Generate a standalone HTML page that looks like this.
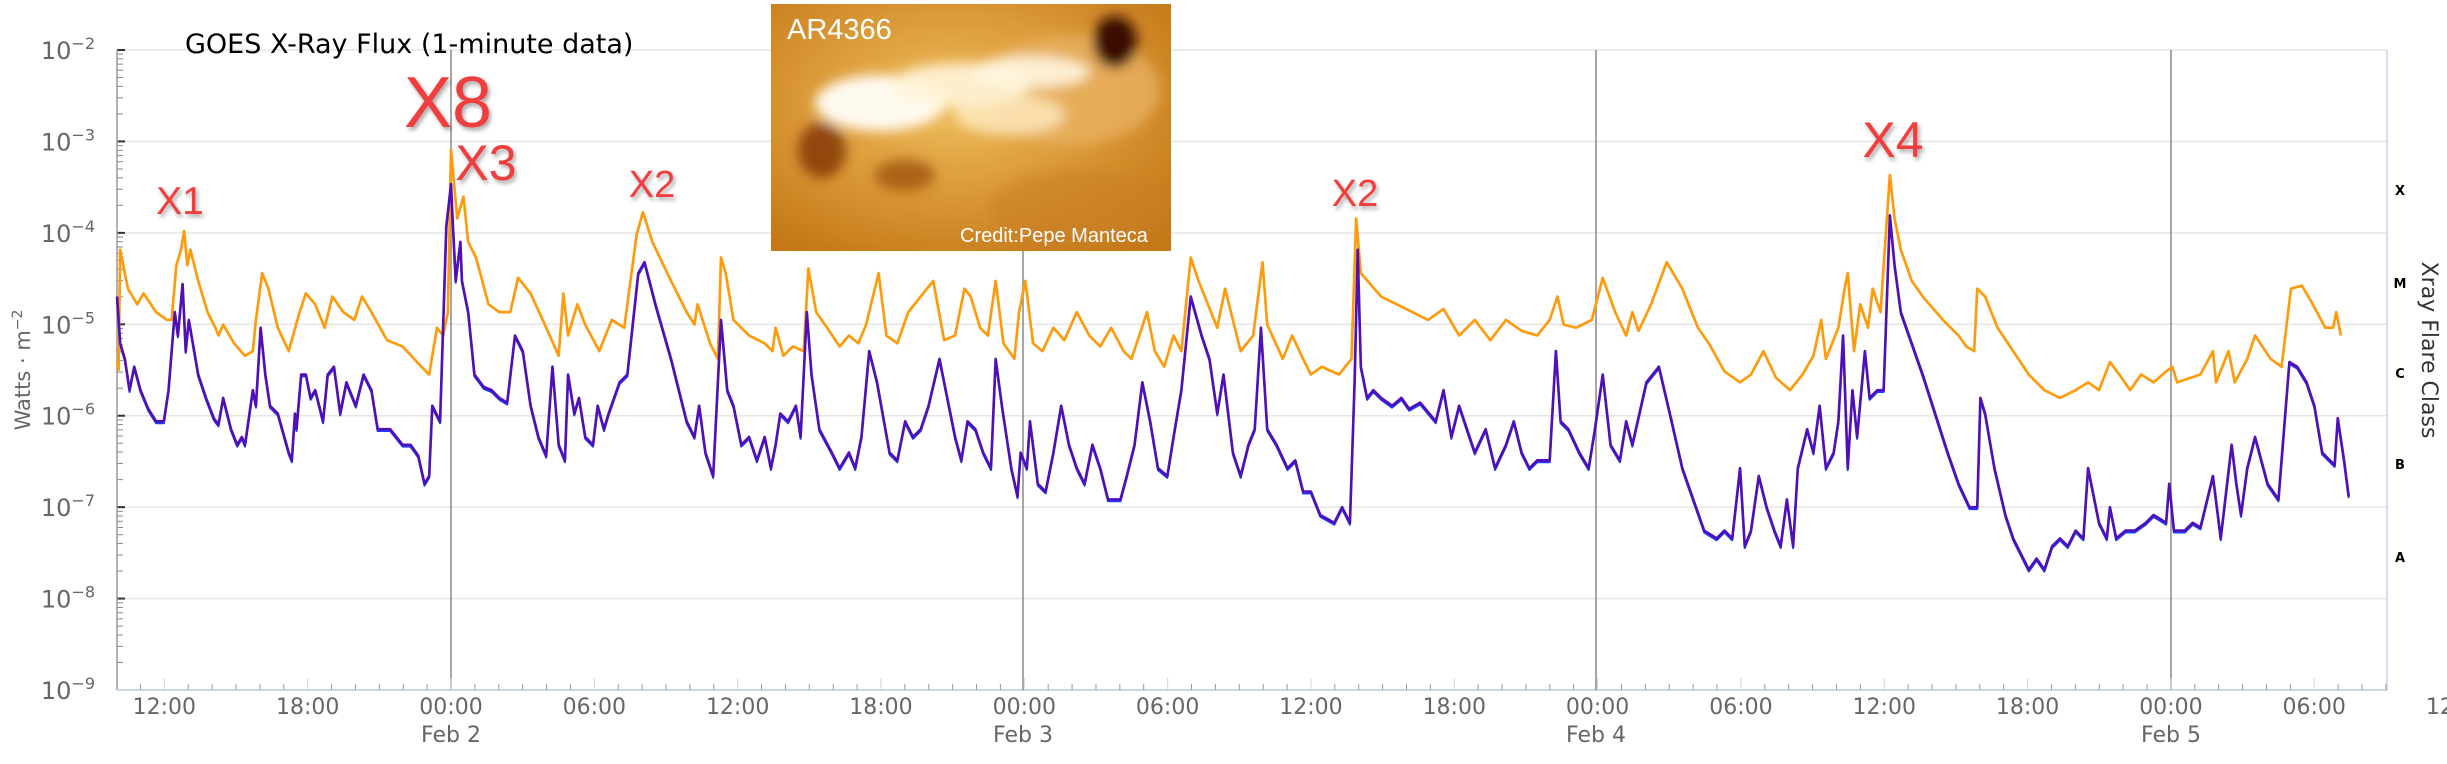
<!DOCTYPE html>
<html><head><meta charset="utf-8">
<style>
html,body{margin:0;padding:0;background:#fff;}
svg{display:block;font-family:"DejaVu Sans","Liberation Sans",sans-serif;}
</style></head>
<body>
<svg id="s" width="2447" height="764" viewBox="0 0 2447 764" xmlns="http://www.w3.org/2000/svg">
<defs>
<filter id="sh" x="-20%" y="-20%" width="140%" height="140%"><feDropShadow dx="2" dy="3" stdDeviation="2" flood-color="#000" flood-opacity="0.35"/></filter>
<filter id="bl"><feGaussianBlur stdDeviation="6"/></filter>
<radialGradient id="g1" cx="0.45" cy="0.4" r="0.7"><stop offset="0" stop-color="#f0c060"/><stop offset="0.5" stop-color="#dc9a38"/><stop offset="1" stop-color="#c47818"/></radialGradient>
<clipPath id="ic"><rect x="771" y="4" width="400" height="247"/></clipPath>
</defs>
<g id="grid"></g>
<g id="axes"></g>
<!-- image -->
<g clip-path="url(#ic)">
<rect x="771" y="4" width="400" height="247" fill="url(#g1)"/>
<g filter="url(#bl)">
<ellipse cx="1070" cy="90" rx="90" ry="55" fill="#e8b060" opacity="0.8"/>
<ellipse cx="880" cy="103" rx="65" ry="28" fill="#fffaf0"/>
<ellipse cx="960" cy="85" rx="70" ry="22" fill="#fff4d8" opacity="0.9"/>
<ellipse cx="1030" cy="72" rx="60" ry="16" fill="#fff6e0" opacity="0.9"/>
<ellipse cx="1010" cy="115" rx="55" ry="20" fill="#ffefc8" opacity="0.75"/>
<ellipse cx="1115" cy="42" rx="22" ry="26" fill="#3a0c00"/>
<ellipse cx="822" cy="150" rx="24" ry="28" fill="#7a2c00" opacity="0.75"/>
<ellipse cx="905" cy="175" rx="30" ry="16" fill="#8a3a08" opacity="0.6"/>
<ellipse cx="1080" cy="210" rx="90" ry="40" fill="#c98028" opacity="0.6"/>
</g>
<text x="787" y="39" font-family="Liberation Sans,sans-serif" font-size="29" fill="#fff">AR4366</text>
<text x="960" y="242" font-family="Liberation Sans,sans-serif" font-size="20" fill="#fff">Credit:Pepe Manteca</text>
</g>
<g id="data" transform="scale(1.5606)"></g>
<text x="185" y="53" font-size="27" fill="#000">GOES X-Ray Flux (1-minute data)</text>
<g fill="#f03c3c" font-family="Liberation Sans,sans-serif" filter="url(#sh)">
<text x="180" y="214" font-size="39" text-anchor="middle">X1</text>
<text x="448" y="127" font-size="72" text-anchor="middle">X8</text>
<text x="486" y="180" font-size="50" text-anchor="middle">X3</text>
<text x="652" y="197" font-size="38" text-anchor="middle">X2</text>
<text x="1355" y="206" font-size="38" text-anchor="middle">X2</text>
<text x="1893" y="157" font-size="50" text-anchor="middle">X4</text>
</g>
<text transform="translate(30,370) rotate(-90)" font-size="21" fill="#666" text-anchor="middle">Watts · m<tspan dy="-8" font-size="14">−2</tspan></text>
<text transform="translate(2422,350) rotate(90)" font-size="22" fill="#333" text-anchor="middle">Xray Flare Class</text>
<g font-size="13" font-weight="bold" fill="#000" text-anchor="middle">
<text x="2400" y="195">X</text><text x="2400" y="288">M</text><text x="2400" y="378">C</text><text x="2400" y="469">B</text><text x="2400" y="562">A</text>
</g>
</svg>
<script>
(function(){
var NS="http://www.w3.org/2000/svg";
function el(p,t,a,txt){var e=document.createElementNS(NS,t);for(var k in a)e.setAttribute(k,a[k]);if(txt!==undefined)e.textContent=txt;p.appendChild(e);return e;}
var grid=document.getElementById('grid'),axes=document.getElementById('axes'),data=document.getElementById('data');
var L=117,R=2387,T=50,D=91.43,B=690;
for(var i=0;i<=7;i++){var y=T+i*D;
 if(i<7) el(grid,'line',{x1:L,x2:R,y1:y,y2:y,stroke:'#e6e6e6','stroke-width':1.5});
 var t=el(axes,'text',{x:95,y:y+9,'font-size':24,fill:'#666','text-anchor':'end'});
 t.appendChild(document.createTextNode('10'));
 el(t,'tspan',{dy:-10,'font-size':16},'−'+(2+i));
 el(axes,'line',{x1:L,x2:L+8,y1:y,y2:y,stroke:'#333','stroke-width':2});
 if(i<7){for(var m=2;m<=9;m++){var yy=y+D-D*Math.log10(m);el(axes,'line',{x1:L,x2:L+6,y1:yy,y2:yy,stroke:'#888','stroke-width':1});}}
}
el(axes,'line',{x1:L,x2:L,y1:T,y2:B,stroke:'#999','stroke-width':1.5});
el(axes,'line',{x1:L,x2:R,y1:B,y2:B,stroke:'#ccd6eb','stroke-width':2});
el(axes,'line',{x1:R,x2:R,y1:T,y2:B,stroke:'#ccd6eb','stroke-width':1.5});
var day=573.3,f2=451,ph=day/24;
var days=[[451,'Feb 2'],[1023,'Feb 3'],[1596,'Feb 4'],[2171,'Feb 5']];
days.forEach(function(d){el(axes,'line',{x1:d[0],x2:d[0],y1:T,y2:B,stroke:'#888','stroke-width':1.5});
 el(axes,'text',{x:d[0],y:742,'font-size':22,fill:'#666','text-anchor':'middle'},d[1]);});
for(var h=-14;h<=84;h++){var x=f2+h*ph;if(x<L+2||x>R)continue;
 var major=(h%6===0);el(axes,'line',{x1:x,x2:x,y1:B,y2:B-(major?12:6),stroke:major?'#ccd6eb':'#999','stroke-width':1});
 if(major&&h%24!==0){var hh=((h%24)+24)%24;el(axes,'text',{x:x,y:714,'font-size':22,fill:'#666','text-anchor':'middle'},(hh<10?'0':'')+hh+':00');}
 if(h%24===0) el(axes,'text',{x:x,y:714,'font-size':22,fill:'#666','text-anchor':'middle'},'00:00');
}
el(axes,'text',{x:f2+84*ph,y:714,'font-size':22,fill:'#666','text-anchor':'middle'},'12:00');
var O=[75,232,76,237,77,160,82,185,88,195,92,188,100,200,107,205,110,205,113,170,116,160,118,148,120,170,122,160,127,180,133,200,138,210,140,215,143,208,150,220,157,228,162,225,164,205,168,175,172,185,178,210,185,225,192,200,196,188,202,195,208,210,213,190,220,200,227,205,232,190,238,200,248,218,258,222,270,235,275,240,280,210,284,215,287,200,289,96,293,140,297,126,300,155,305,165,313,195,320,200,327,200,332,178,340,188,350,210,358,228,361,188,364,215,370,195,375,208,384,225,392,205,400,210,408,150,412,136,418,155,430,180,440,200,445,208,447,195,455,220,460,230,462,165,465,175,470,205,480,215,490,220,495,225,497,210,502,228,508,222,515,225,518,172,523,200,530,210,538,222,544,215,550,220,555,208,563,175,568,215,575,220,582,200,590,190,598,180,605,218,612,215,618,185,622,190,628,210,633,215,638,180,643,220,650,230,653,200,657,180,662,220,668,225,675,210,682,218,690,200,698,215,705,222,712,210,720,225,725,230,730,215,735,200,740,225,746,235,752,215,757,225,763,165,768,180,772,190,780,210,785,185,790,205,795,225,803,215,809,168,812,208,822,230,828,215,835,230,840,240,847,235,858,240,866,230,869,140,872,175,878,182,885,190,895,195,905,200,915,205,925,198,935,215,945,205,955,218,965,205,975,212,985,215,993,205,998,190,1002,208,1010,210,1020,205,1027,178,1035,200,1042,215,1046,200,1050,212,1058,195,1068,168,1078,185,1088,210,1095,220,1105,238,1115,245,1122,240,1130,225,1138,242,1147,250,1155,240,1162,228,1167,205,1170,230,1178,210,1182,185,1184,175,1188,225,1192,195,1197,210,1200,185,1205,200,1211,112,1214,140,1218,160,1225,180,1232,190,1245,205,1255,215,1260,222,1265,225,1267,185,1272,190,1280,210,1290,225,1300,240,1310,250,1320,255,1330,250,1338,245,1345,250,1352,232,1358,240,1365,250,1372,240,1380,245,1388,238,1392,235,1395,245,1410,240,1418,225,1420,245,1428,225,1432,245,1440,230,1445,215,1455,230,1462,235,1468,185,1475,183,1482,195,1490,210,1495,210,1497,200,1500,215];
var P=[75,190,77,220,80,230,83,250,86,235,90,250,95,262,100,270,105,270,108,250,112,200,114,215,117,182,119,225,121,205,127,240,132,255,137,268,140,272,143,255,148,275,152,285,155,280,157,285,162,250,164,260,167,210,170,240,173,260,178,265,185,290,187,295,189,265,190,275,193,240,196,240,199,255,202,250,207,270,210,240,214,235,218,265,222,245,228,260,233,240,238,250,242,275,250,275,258,285,263,285,268,292,272,310,275,305,277,260,282,270,286,145,289,118,290,140,292,180,295,155,296,180,300,200,304,240,310,248,315,250,320,255,325,258,330,215,335,225,340,260,345,280,350,292,354,235,358,285,362,295,364,240,368,265,371,255,375,280,380,285,383,260,387,275,390,265,397,245,402,240,409,175,413,168,420,195,430,230,440,270,445,280,448,260,452,290,457,305,462,205,466,250,470,260,475,285,480,280,485,295,490,280,494,300,497,285,500,265,505,270,510,260,513,280,517,200,520,240,525,275,533,290,538,300,544,290,548,300,552,280,557,225,562,245,570,290,575,295,580,270,585,280,590,275,595,260,602,230,608,260,612,280,616,295,620,270,625,275,630,290,635,300,638,230,642,260,648,300,652,318,654,290,658,300,660,270,665,310,670,315,675,290,680,260,685,285,690,300,695,310,700,285,705,300,710,320,718,320,722,305,727,285,732,245,737,270,742,300,748,305,752,280,757,250,763,190,770,215,775,230,780,265,784,240,790,290,795,305,800,285,804,275,808,210,812,275,818,285,825,300,830,295,835,315,840,315,846,330,855,335,860,325,865,335,868,245,870,160,872,235,876,255,880,250,885,255,892,260,898,255,903,262,910,258,920,270,925,250,930,280,935,260,940,275,945,290,952,275,958,300,965,285,970,270,975,290,980,300,985,295,993,295,997,225,1000,270,1005,275,1012,290,1018,300,1022,275,1027,240,1032,285,1038,295,1042,270,1046,285,1055,245,1063,235,1070,265,1078,300,1085,320,1092,340,1100,345,1105,340,1110,345,1115,300,1118,350,1122,340,1127,305,1132,325,1137,340,1141,350,1145,320,1149,350,1152,300,1158,275,1162,290,1166,260,1170,300,1175,290,1178,270,1181,215,1184,300,1187,250,1190,280,1195,225,1198,255,1203,250,1207,250,1211,138,1214,170,1218,200,1225,220,1232,240,1240,265,1248,290,1255,310,1262,325,1267,325,1269,255,1272,265,1278,300,1285,330,1290,345,1295,355,1300,365,1305,358,1310,365,1315,350,1320,345,1325,350,1330,340,1335,345,1338,300,1342,320,1345,335,1350,345,1352,325,1356,345,1362,340,1368,340,1375,335,1380,330,1388,335,1390,310,1393,340,1400,340,1405,335,1410,338,1418,305,1423,345,1430,285,1433,310,1436,330,1440,300,1445,280,1453,310,1460,320,1467,232,1472,235,1478,245,1483,260,1488,290,1493,295,1496,298,1498,268,1502,295,1505,318];
function pts(a,dy){var s=[];for(var i=0;i<a.length;i+=2)s.push(a[i]+','+(a[i+1]+(dy||0)));return s.join(' ');}
el(data,'polyline',{points:pts(P,1.2),fill:'none',stroke:'#1a3cff','stroke-width':1.3,'stroke-linejoin':'round'});
el(data,'polyline',{points:pts(O),fill:'none',stroke:'#ff9a0a','stroke-width':1.7,'stroke-linejoin':'round'});
el(data,'polyline',{points:pts(P),fill:'none',stroke:'#4f10b8','stroke-width':1.7,'stroke-linejoin':'round'});
})();
</script>
</body></html>
